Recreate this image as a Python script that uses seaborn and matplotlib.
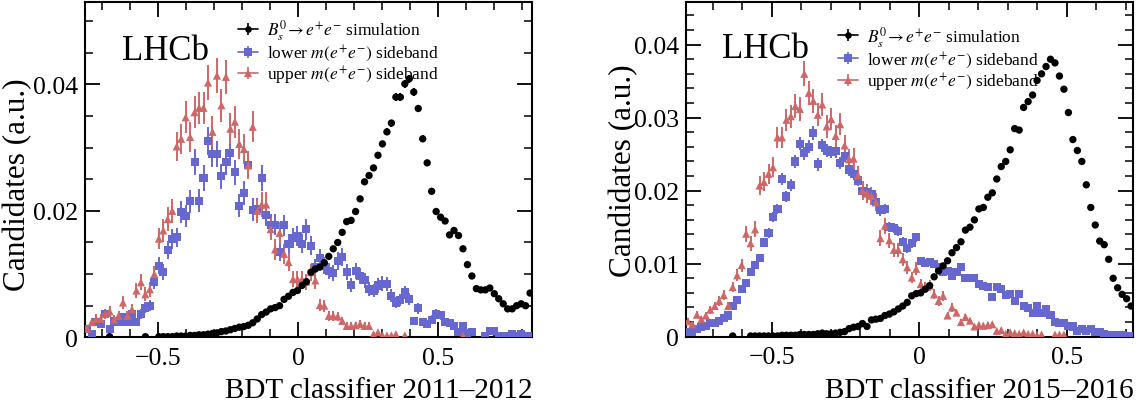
import numpy as np
import pandas as pd
import matplotlib
matplotlib.use("Agg")
import matplotlib.pyplot as plt
import seaborn as sns
from matplotlib.lines import Line2D
from matplotlib.legend_handler import HandlerTuple
from matplotlib.ticker import MultipleLocator, FuncFormatter

nan = np.nan

# ---------------- data ----------------
n_bins = 100
left_range = (-0.76, 0.835)
right_range = (-0.792, 0.725)

left_sim = [nan, nan, nan, nan, nan, 0.0001, nan, nan, nan, nan,
            nan, nan, nan, 0.0001, nan, nan, 0.0001, 0.0001, 0.0001, 0.0001,
            0.0002, 0.0002, 0.0002, 0.0003, 0.0003, 0.0004, 0.0004, 0.0005, 0.0006, 0.0007,
            0.0009, 0.0010, 0.0012, 0.0014, 0.0016, 0.0017, 0.0019, 0.0023, 0.0029, 0.0036,
            0.0040, 0.0045, 0.0047, 0.0050, 0.0060, 0.0065, 0.0071, 0.0074, 0.0082, 0.0088,
            0.0103, 0.0108, 0.0111, 0.0118, 0.0128, 0.0140, 0.0150, 0.0166, 0.0183, 0.0185,
            0.0199, 0.0219, 0.0246, 0.0256, 0.0268, 0.0288, 0.0306, 0.0325, 0.0339, 0.0380,
            0.0380, 0.0401, 0.0409, 0.0388, 0.0362, 0.0314, 0.0276, 0.0231, 0.0199, 0.0190,
            0.0184, 0.0162, 0.0169, 0.0161, 0.0140, 0.0115, 0.0097, 0.0077, 0.0075, 0.0075,
            0.0078, 0.0069, 0.0061, 0.0053, 0.0045, 0.0045, 0.0050, 0.0053, 0.0050, 0.0070]

left_lower = [0.0013, 0.0005, 0.0024, 0.0021, 0.0037, 0.0013, 0.0026, 0.0024, 0.0032, 0.0024,
              0.0037, 0.0024, 0.0037, 0.0047, 0.0050, 0.0088, 0.0113, 0.0104, 0.0138, 0.0156,
              0.0158, 0.0198, 0.0192, 0.0215, 0.0277, 0.0216, 0.0252, 0.0310, 0.0290, 0.0290,
              0.0255, 0.0277, 0.0292, 0.0261, 0.0208, 0.0229, 0.0273, 0.0202, 0.0203, 0.0252,
              0.0193, 0.0178, 0.0178, 0.0135, 0.0177, 0.0148, 0.0157, 0.0160, 0.0148, 0.0171,
              0.0145, 0.0111, 0.0125, 0.0113, 0.0105, 0.0102, 0.0121, 0.0127, 0.0104, 0.0083,
              0.0105, 0.0097, 0.0090, 0.0076, 0.0074, 0.0082, 0.0085, 0.0084, 0.0066, 0.0055,
              0.0059, 0.0071, 0.0061, 0.0026, 0.0046, 0.0024, 0.0021, 0.0028, 0.0037, 0.0035,
              0.0024, 0.0023, 0.0018, 0.0008, 0.0018, 0.0007, 0.0008, nan, nan, 0.0002,
              0.0010, 0.0010, 0.0002, 0.0002, 0.0002, 0.0005, 0.0002, 0.0005, 0.0002, 0.0002]

left_upper = [0.0014, 0.0024, 0.0029, 0.0029, 0.0037, 0.0041, 0.0028, 0.0034, 0.0055, 0.0034,
              0.0044, 0.0074, 0.0087, 0.0068, 0.0076, 0.0100, 0.0156, 0.0169, 0.0187, 0.0200,
              0.0302, 0.0314, 0.0348, 0.0317, 0.0356, 0.0363, 0.0363, 0.0403, 0.0325, 0.0414,
              0.0367, 0.0412, 0.0330, 0.0341, 0.0306, 0.0298, 0.0272, 0.0333, 0.0200, 0.0210,
              0.0210, 0.0171, 0.0139, 0.0165, 0.0132, 0.0119, 0.0092, 0.0092, 0.0092, 0.0088,
              0.0103, 0.0090, 0.0051, 0.0050, 0.0034, 0.0034, 0.0033, 0.0026, 0.0018, 0.0018,
              0.0019, 0.0021, 0.0018, 0.0018, 0.0005, 0.0008, 0.0003, 0.0003, 0.0003, 0.0005,
              nan, 0.0003, nan, nan, nan, nan, nan, nan, nan, nan,
              nan, nan, nan, nan, 0.0003, nan, nan, nan, nan, nan,
              nan, nan, nan, nan, nan, nan, nan, nan, nan, nan]

right_sim = [nan, nan, nan, nan, nan, nan, nan, nan, nan, nan,
             0.0001, nan, nan, nan, 0.0001, 0.0001, 0.0001, 0.0001, 0.0001, 0.0001,
             0.0001, 0.0002, 0.0002, 0.0002, 0.0002, 0.0003, 0.0003, 0.0003, 0.0003, 0.0004,
             0.0005, 0.0004, 0.0004, 0.0005, 0.0006, 0.0007, 0.0011, 0.0013, 0.0014, 0.0018,
             0.0014, 0.0023, 0.0024, 0.0025, 0.0029, 0.0031, 0.0034, 0.0038, 0.0042, 0.0047,
             0.0056, 0.0059, 0.0060, 0.0065, 0.0070, 0.0082, 0.0090, 0.0097, 0.0104, 0.0115,
             0.0122, 0.0130, 0.0146, 0.0150, 0.0160, 0.0175, 0.0177, 0.0191, 0.0197, 0.0216,
             0.0233, 0.0240, 0.0256, 0.0285, 0.0283, 0.0314, 0.0322, 0.0331, 0.0351, 0.0360,
             0.0370, 0.0380, 0.0375, 0.0357, 0.0339, 0.0307, 0.0270, 0.0255, 0.0240, 0.0208,
             0.0177, 0.0153, 0.0131, 0.0126, 0.0106, 0.0080, 0.0067, 0.0058, 0.0052, 0.0042]

right_lower = [0.0007, 0.0006, 0.0010, 0.0013, 0.0015, 0.0019, 0.0019, 0.0022, 0.0026, 0.0029,
               0.0042, 0.0050, 0.0065, 0.0073, 0.0089, 0.0098, 0.0108, 0.0129, 0.0142, 0.0164,
               0.0175, 0.0216, 0.0192, 0.0208, 0.0240, 0.0264, 0.0251, 0.0260, 0.0279, 0.0236,
               0.0262, 0.0255, 0.0253, 0.0254, 0.0238, 0.0248, 0.0229, 0.0223, 0.0214, 0.0200,
               0.0198, 0.0196, 0.0184, 0.0173, 0.0175, 0.0150, 0.0149, 0.0145, 0.0130, 0.0121,
               0.0128, 0.0136, 0.0104, 0.0101, 0.0102, 0.0100, 0.0095, 0.0088, 0.0090, 0.0083,
               0.0088, 0.0095, 0.0081, 0.0080, 0.0080, 0.0072, 0.0070, 0.0068, 0.0054, 0.0068,
               0.0065, 0.0057, 0.0059, 0.0049, 0.0059, 0.0042, 0.0039, 0.0033, 0.0042, 0.0032,
               0.0038, 0.0030, 0.0020, 0.0019, 0.0019, 0.0015, 0.0014, 0.0008, 0.0010, 0.0008,
               0.0010, 0.0006, 0.0006, 0.0004, 0.0002, 0.0002, 0.0002, 0.0002, 0.0001, 0.0001]

right_upper = [0.0021, 0.0017, 0.0030, 0.0024, 0.0029, 0.0037, 0.0042, 0.0049, 0.0057, 0.0042,
               0.0068, 0.0084, 0.0098, 0.0141, 0.0128, 0.0147, 0.0207, 0.0212, 0.0223, 0.0232,
               0.0273, 0.0273, 0.0297, 0.0302, 0.0316, 0.0312, 0.0360, 0.0334, 0.0323, 0.0304,
               0.0318, 0.0288, 0.0298, 0.0275, 0.0291, 0.0262, 0.0243, 0.0244, 0.0221, 0.0200,
               0.0196, 0.0193, 0.0184, 0.0135, 0.0152, 0.0132, 0.0119, 0.0119, 0.0106, 0.0095,
               0.0081, 0.0093, 0.0072, 0.0068, 0.0070, 0.0058, 0.0049, 0.0056, 0.0029, 0.0040,
               0.0033, 0.0020, 0.0027, 0.0022, 0.0014, 0.0016, 0.0015, 0.0016, 0.0017, 0.0008,
               0.0009, 0.0004, 0.0006, 0.0005, 0.0004, 0.0006, 0.0004, 0.0004, 0.0002, 0.0003,
               nan, nan, 0.0003, 0.0003, 0.0003, nan, nan, nan, nan, nan,
               nan, nan, nan, nan, nan, nan, nan, nan, nan, nan]

# statistical-uncertainty scale per series (error = scale * sqrt(content))
left_err_scale = {"sim": 0.0030, "lower": 0.0125, "upper": 0.0135}
right_err_scale = {"sim": 0.0016, "lower": 0.0055, "upper": 0.0090}

series_labels = [r"$B^0_s\!\rightarrow e^{+}e^{-}$ simulation",
                 r"lower $m(e^{+}e^{-})$ sideband",
                 r"upper $m(e^{+}e^{-})$ sideband"]
x_titles = ["BDT classifier 2011\u20132012", "BDT classifier 2015\u20132016"]
y_title = "Candidates (a.u.)"

# ---------------- style ----------------
sns.set_theme(style="ticks")
plt.rcParams.update({
    "font.family": ["Liberation Serif", "DejaVu Serif"],
    "mathtext.fontset": "stix",
    "axes.linewidth": 1.5,
    "axes.edgecolor": "black",
    "xtick.direction": "in", "ytick.direction": "in",
    "xtick.top": True, "ytick.right": True,
    "xtick.major.size": 10.5, "ytick.major.size": 10.5,
    "xtick.minor.size": 5.5, "ytick.minor.size": 5.5,
    "xtick.major.width": 1.3, "ytick.major.width": 1.3,
    "xtick.minor.width": 1.1, "ytick.minor.width": 1.1,
    "xtick.color": "black", "ytick.color": "black",
    "xtick.labelsize": 18.5, "ytick.labelsize": 18.5,
    "axes.labelsize": 21,
    "text.color": "black", "axes.labelcolor": "black",
})

C_SIM, C_LOW, C_UP = "black", "#6767d0", "#d06767"
styles = {"sim": (C_SIM, "o", 28), "lower": (C_LOW, "s", 34), "upper": (C_UP, "^", 34)}

fig = plt.figure(figsize=(11.43, 4.06), dpi=100)
ax_l = fig.add_axes([85 / 1143, 1 - 338.3 / 406, 447.3 / 1143, 335 / 406])
ax_r = fig.add_axes([685.7 / 1143, 1 - 337.7 / 406, 447.6 / 1143, 334.4 / 406])

panels = [
    (ax_l, left_range, {"sim": left_sim, "lower": left_lower, "upper": left_upper},
     left_err_scale, 0.053, 0.02, 0.005, (0.342, 0.955), (-0.118, 0.46)),
    (ax_r, right_range, {"sim": right_sim, "lower": right_lower, "upper": right_upper},
     right_err_scale, 0.0458, 0.01, 0.002, (0.340, 0.935), (-0.107, 0.50)),
]

fmt_num = FuncFormatter(lambda v, p: "0" if abs(v) < 1e-9 else f"{v:g}".replace("-", "\u2212"))

for k, (ax, rng, data, escale, ytop, ymaj, ymin, leg_pos, ylab_pos) in enumerate(panels):
    edges = np.linspace(rng[0], rng[1], n_bins + 1)
    centers = 0.5 * (edges[:-1] + edges[1:])
    for name in ["lower", "upper", "sim"]:
        vals = np.array(data[name], dtype=float)
        err = escale[name] * np.sqrt(vals)
        col, mk, s = styles[name]
        ax.errorbar(centers, vals, yerr=err, fmt="none", ecolor=col, elinewidth=1.4,
                    capsize=0, zorder=2)
        df = pd.DataFrame({"x": centers, "y": vals}).dropna()
        sns.scatterplot(data=df, x="x", y="y", ax=ax, color=col, marker=mk, s=s,
                        edgecolor="none", linewidth=0, zorder=3, legend=False)
    ax.set_xlim(rng)
    ax.set_ylim(0, ytop)
    ax.xaxis.set_major_locator(MultipleLocator(0.5))
    ax.xaxis.set_minor_locator(MultipleLocator(0.1))
    ax.yaxis.set_major_locator(MultipleLocator(ymaj))
    ax.yaxis.set_minor_locator(MultipleLocator(ymin))
    ax.xaxis.set_major_formatter(fmt_num)
    ax.yaxis.set_major_formatter(fmt_num)
    ax.tick_params(which="both", top=True, right=True)
    ax.tick_params(axis="x", which="major", pad=7)
    ax.tick_params(axis="y", which="major", pad=5)
    ax.set_xlabel(x_titles[k], loc="right", labelpad=6)
    ax.set_ylabel(y_title, fontsize=22.5)
    ax.yaxis.set_label_coords(*ylab_pos)
    ax.text(0.083 if k == 0 else 0.080, 0.831 if k == 0 else 0.836, "LHCb",
            transform=ax.transAxes, fontsize=25, ha="left", va="baseline")
    handles = []
    for name in ["sim", "lower", "upper"]:
        col, mk, s = styles[name]
        h1 = Line2D([], [], color=col, lw=1.2, marker=mk, markersize=np.sqrt(s) * 0.9,
                    markeredgewidth=0)
        h2 = Line2D([], [], color=col, lw=0, marker="|", markersize=9, markeredgewidth=1.2)
        handles.append((h1, h2))
    ax.legend(handles, series_labels, handler_map={tuple: HandlerTuple(ndivide=1)},
              loc="upper left", bbox_to_anchor=leg_pos, frameon=False, fontsize=12.5,
              handlelength=1.15, handletextpad=0.5, labelspacing=0.02, borderpad=0,
              borderaxespad=0)
    for sp in ax.spines.values():
        sp.set_visible(True)

fig.savefig("out.png", dpi=100)
